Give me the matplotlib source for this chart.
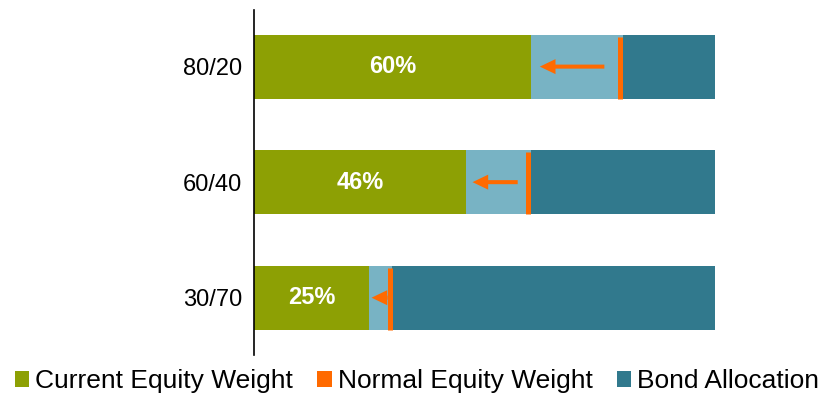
import matplotlib
matplotlib.use("Agg")
import matplotlib.pyplot as plt
from matplotlib.patches import Patch

categories = ["30/70", "60/40", "80/20"]
current_equity = [25, 46, 60]
normal_equity = [30, 60, 80]
total = [100, 100, 100]
legend_labels = ["Current Equity Weight", "Normal Equity Weight", "Bond Allocation"]

GREEN = "#8DA004"
LIGHT = "#78B3C4"
TEAL = "#31798D"
ORANGE = "#FF6A00"

plt.rcParams['font.family'] = ['Liberation Sans', 'DejaVu Sans']

fig = plt.figure(figsize=(8.27, 3.94), dpi=100)
ax = fig.add_axes([254/827, (394-352)/394, 461/827, 342/394])

ypos = list(range(len(categories)))
h = 0.555
gap = [n - c for n, c in zip(normal_equity, current_equity)]
bond = [t - n for t, n in zip(total, normal_equity)]

ax.barh(ypos, current_equity, height=h, color=GREEN, linewidth=0)
ax.barh(ypos, gap, left=current_equity, height=h, color=LIGHT, linewidth=0)
ax.barh(ypos, bond, left=normal_equity, height=h, color=TEAL, linewidth=0)

line_shift = 0.5  # draw the marker just left of the boundary, as in the reference
for y, c, n in zip(ypos, current_equity, normal_equity):
    ax.plot([n - line_shift, n - line_shift], [y - h/2, y + h/2 - 0.02], color=ORANGE,
            lw=3.6, solid_capstyle='butt', zorder=4)
    g = n - c
    tail = n - 0.2 * g
    tip = c + 0.1 * g
    ax.arrow(tail, y, tip - tail, 0, width=0.035, head_width=0.13, head_length=3.4,
             length_includes_head=True, color=ORANGE, lw=0, zorder=5)
    ax.text(c / 2, y, f"{c}%", color="white", fontsize=17, fontweight="bold",
            ha="center", va="center", zorder=6)

ax.set_xlim(0, 100)
ax.set_ylim(-0.47, 2.49)
ax.set_yticks(ypos)
ax.set_yticklabels(categories, fontsize=17)
ax.tick_params(axis='y', length=0, pad=8.6)
ax.set_xticks([])
for s in ["top", "right", "bottom"]:
    ax.spines[s].set_visible(False)
ax.spines["left"].set_linewidth(1.2)
ax.spines["left"].set_bounds(-0.5, 2.49)
ax.spines["left"].set_clip_on(False)

handles = [Patch(facecolor=GREEN, edgecolor='none'),
           Patch(facecolor=ORANGE, edgecolor='none'),
           Patch(facecolor=TEAL, edgecolor='none')]
fig.legend(handles, legend_labels, loc="center", bbox_to_anchor=(417/827, 1 - 381/394),
           ncol=3, frameon=False, fontsize=19, handlelength=0.55, handleheight=0.55,
           handletextpad=0.24, columnspacing=0.9, borderpad=0, borderaxespad=0)

fig.savefig("out.png", dpi=100)
